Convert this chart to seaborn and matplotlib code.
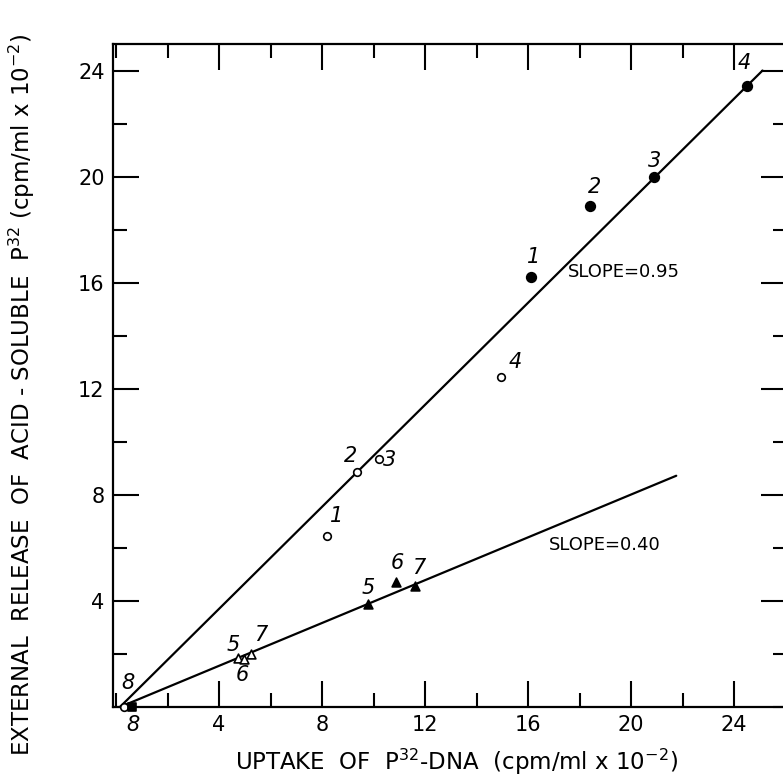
"""Release of acid-soluble P32 vs uptake of P32-DNA."""

import matplotlib
matplotlib.use("Agg")

import matplotlib.pyplot as plt
import pandas as pd
import seaborn as sns
from matplotlib.ticker import MultipleLocator

# filled circles (1-4)
fc_x = [16.1, 18.4, 20.9, 24.5]
fc_y = [16.2, 18.9, 20.0, 23.4]
fc_lab = ["1", "2", "3", "4"]
fc_lab_x = [16.2, 18.56, 20.9, 24.4]
fc_lab_y = [16.95, 19.6, 20.6, 24.3]

# open circles (1-4, 8)
oc_x = [8.2, 9.35, 10.2, 14.95, 0.3]
oc_y = [6.45, 8.85, 9.36, 12.45, 0.0]
oc_lab = ["1", "2", "3", "4", "8"]
oc_lab_x = [8.55, 9.1, 10.6, 15.5, 0.47]
oc_lab_y = [7.2, 9.47, 9.32, 13.0, 0.9]

# filled triangles (5-7)
ft_x = [9.8, 10.85, 11.6]
ft_y = [3.9, 4.7, 4.55]
ft_lab = ["5", "6", "7"]
ft_lab_x = [9.8, 10.9, 11.75]
ft_lab_y = [4.5, 5.43, 5.25]

# open triangles (5-7)
ot_x = [4.74, 4.97, 5.24]
ot_y = [1.85, 1.8, 2.0]
ot_lab = ["5", "6", "7"]
ot_lab_x = [4.55, 4.9, 5.6]
ot_lab_y = [2.34, 1.2, 2.72]

# filled square (8)
fs_x = [0.6]
fs_y = [0.0]
fs_lab_x = [0.66]
fs_lab_y = [-0.68]

# fitted lines
line_hi_x = [0.15, 25.1]
line_hi_y = [0.0, 24.0]
line_lo_x = [0.15, 21.75]
line_lo_y = [0.0, 8.72]

sns.set_style("ticks")
plt.rcParams["font.family"] = ["DejaVu Sans"]
plt.rcParams["mathtext.fontset"] = "dejavusans"
for key in ["text.color", "axes.labelcolor", "xtick.color", "ytick.color", "axes.edgecolor"]:
    plt.rcParams[key] = "black"

fig = plt.figure(figsize=(7.83, 7.79), dpi=100)
ax = fig.add_axes([113 / 783, 1 - 707 / 779, (787 - 113) / 783, (707 - 44) / 779])

sns.lineplot(x=line_hi_x, y=line_hi_y, color="black", linewidth=1.6, ax=ax)
sns.lineplot(x=line_lo_x, y=line_lo_y, color="black", linewidth=1.6, ax=ax)

groups = [
    (fc_x, fc_y, "o", "black", 48),
    (oc_x, oc_y, "o", "white", 30),
    (ft_x, ft_y, "^", "black", 40),
    (ot_x, ot_y, "^", "white", 40),
    (fs_x, fs_y, "s", "black", 40),
]
for xs, ys, mk, face, size in groups:
    df = pd.DataFrame({"x": xs, "y": ys})
    sns.scatterplot(data=df, x="x", y="y", marker=mk, s=size, color=face,
                    edgecolor="black", linewidth=1.2, ax=ax, zorder=3, clip_on=False)

label_sets = [
    (fc_lab, fc_lab_x, fc_lab_y),
    (oc_lab, oc_lab_x, oc_lab_y),
    (ft_lab, ft_lab_x, ft_lab_y),
    (ot_lab, ot_lab_x, ot_lab_y),
    (["8"], fs_lab_x, fs_lab_y),
]
for labs, lx, ly in label_sets:
    for t, x, y in zip(labs, lx, ly):
        ax.text(x, y, t, fontsize=15, style="italic", ha="center", va="center",
                clip_on=False)

ax.text(17.55, 16.4, "SLOPE=0.95", fontsize=13, ha="left", va="center")
ax.text(16.8, 6.1, "SLOPE=0.40", fontsize=13, ha="left", va="center")

ax.set_xlim(-0.12, 26.05)
ax.set_ylim(0, 25)
ax.xaxis.set_major_locator(MultipleLocator(4))
ax.xaxis.set_minor_locator(MultipleLocator(2))
ax.yaxis.set_major_locator(MultipleLocator(4))
ax.yaxis.set_minor_locator(MultipleLocator(2))
ax.set_xticks([4, 8, 12, 16, 20, 24])
ax.set_yticks([4, 8, 12, 16, 20, 24])
ax.tick_params(which="both", direction="in", top=True, right=True, width=1.5,
               labelsize=15, pad=6)
ax.tick_params(which="major", length=19)
ax.tick_params(which="minor", length=10)
for sp in ax.spines.values():
    sp.set_linewidth(1.6)
ax.set_xlabel("")
ax.set_ylabel("")

fig.text(456 / 783, 1 - 762 / 779,
         r"UPTAKE  OF  P$^{32}$-DNA  (cpm/ml x 10$^{-2}$)",
         fontsize=16.5, ha="center", va="center")
fig.text(22 / 783, 1 - 395 / 779,
         r"EXTERNAL  RELEASE  OF  ACID - SOLUBLE  P$^{32}$ (cpm/ml x 10$^{-2}$)",
         fontsize=16.5, ha="center", va="center", rotation=90)

fig.savefig("out.png", dpi=100)
